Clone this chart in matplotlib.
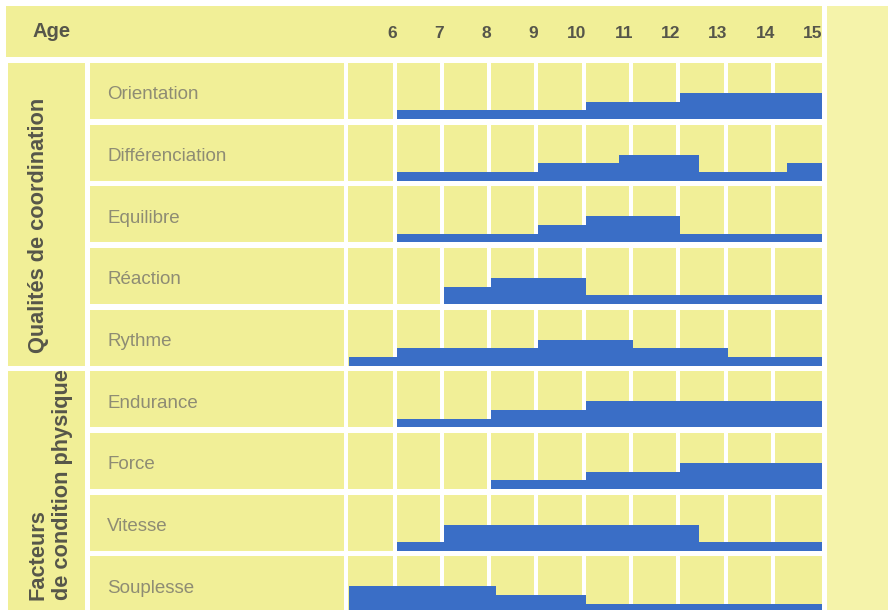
import matplotlib.pyplot as plt
from matplotlib.patches import Rectangle

plt.rcParams['font.family'] = ['Liberation Sans', 'DejaVu Sans']

ages = [6, 7, 8, 9, 10, 11, 12, 13, 14, 15]
groups = ['Qualités de coordination', 'Facteurs\nde condition physique']
group_rows = [(0, 5), (5, 9)]
qualities = ['Orientation', 'Différenciation', 'Equilibre', 'Réaction', 'Rythme',
             'Endurance', 'Force', 'Vitesse', 'Souplesse']

# age at which each step starts / ends, and the bar level (1 thin .. 3 thick)
step_edges = [
    [6, 10, 12, 15],
    [6, 9, 10.7, 12.4, 14.25, 15],
    [6, 9, 10, 12, 15],
    [7, 8, 10, 15],
    [5, 6, 9, 11, 13, 15],
    [6, 8, 10, 15],
    [8, 10, 12, 15],
    [6, 7, 12.4, 15],
    [5, 8.1, 10, 15],
]
step_levels = [
    [1, 2, 3],
    [1, 2, 3, 1, 2],
    [1, 2, 3, 1],
    [2, 3, 1],
    [1, 2, 3, 2, 1],
    [1, 2, 3],
    [1, 2, 3],
    [1, 3, 1],
    [3, 2, 1],
]

yellow = '#f1ef97'
pale = '#f5f3aa'
blue = '#3a6ec6'
dark = '#56564a'
grey = '#8e8c74'
level_h = 0.141

fig = plt.figure(figsize=(8.88, 6.10), dpi=100)
ax = fig.add_axes([0, 0, 1, 1])
ax.set_xlim(-2.394, 16.395)
ax.set_ylim(8.958, -0.929)
ax.axis('off')

# header band and pale right column
ax.add_patch(Rectangle((-2.267, -0.83), 15 + 2.267, 0.83, color=yellow, lw=0))
ax.add_patch(Rectangle((15.1, -0.83), 1.4, 10, color=pale, lw=0))
ax.text(-1.713, -0.33, 'Age', ha='left', va='baseline', fontsize=14.5,
        fontweight='bold', color=dark)
for a in ages:
    ax.text(a, -0.315, str(a), ha='right', va='baseline', fontsize=12.5,
            fontweight='bold', color=dark)

# group cells
for name, (r0, r1) in zip(groups, group_rows):
    ax.add_patch(Rectangle((-2.225, r0 + 0.09), 1.631, r1 - r0 - 0.09, color=yellow, lw=0))
    ax.text(-1.81, r1 - 0.2, name, rotation=90, ha='left', va='bottom',
            multialignment='left', fontsize=15.7, fontweight='bold', color=dark,
            linespacing=1.2)

# row label cells and grid cells
for i, q in enumerate(qualities):
    ax.add_patch(Rectangle((-0.488, i + 0.09), 5.374, 0.91, color=yellow, lw=0))
    ax.text(-0.13, i + 0.68, q, ha='left', va='baseline', fontsize=13.5, color=grey)
    for k in range(5, 15):
        left = 4.97 if k == 5 else k
        right = 15 if k == 14 else k + 1 - 0.085
        ax.add_patch(Rectangle((left, i + 0.09), right - left, 0.91, color=yellow, lw=0))

# development bars
for i, (e, lv) in enumerate(zip(step_edges, step_levels)):
    vals = [i + 1 - l * level_h for l in lv]
    ax.stairs(vals, e, baseline=i + 1, fill=True, color=blue, lw=0)

fig.savefig('out.png', dpi=100, facecolor='white')
